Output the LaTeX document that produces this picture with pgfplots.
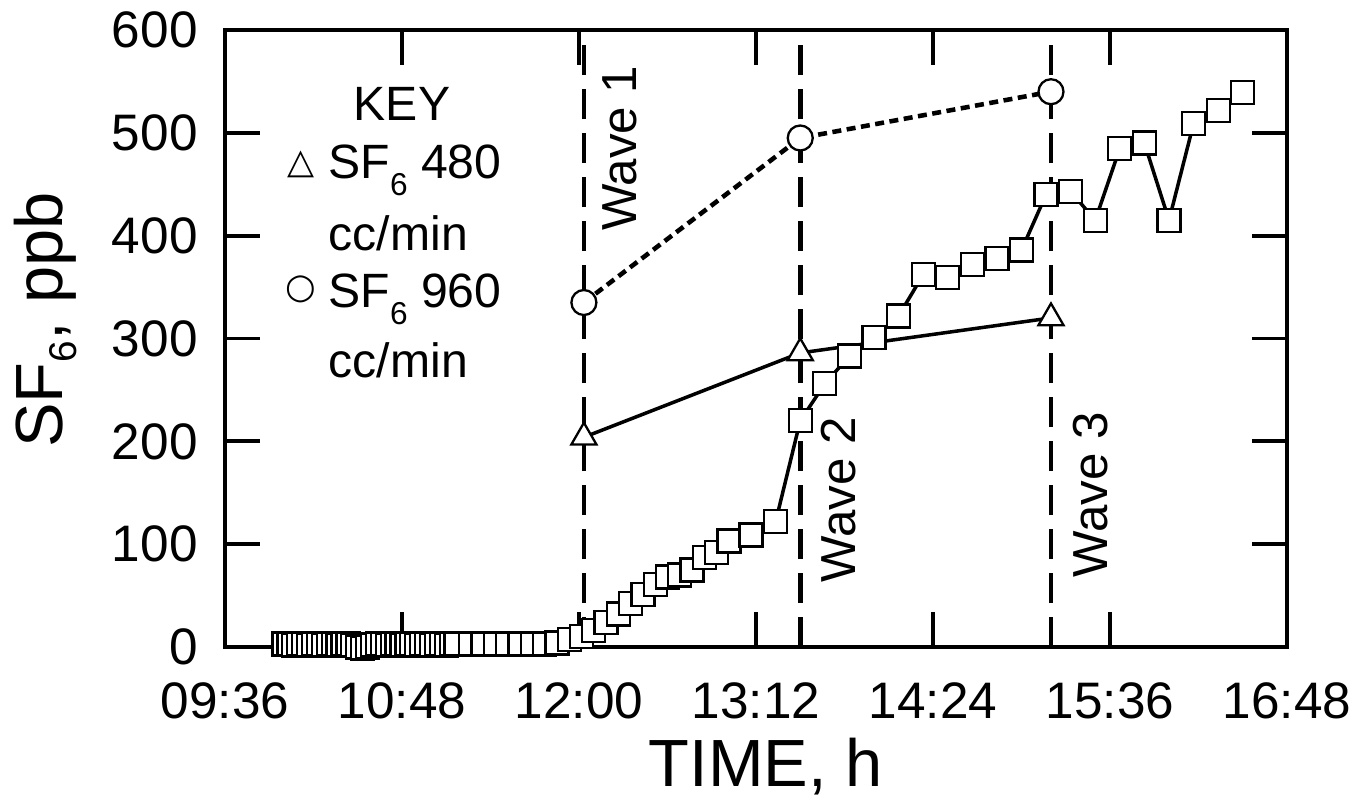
\documentclass[border=0pt]{standalone}
\usepackage{pgfplots}
\pgfplotsset{compat=1.18}
\usepackage{fontspec}
\setmainfont{Liberation Sans}
\newfontfamily\symfont{DejaVu Sans}
% lowered subscript: #1 size, #2 drop, #3 text
\newcommand\sub[3]{\raisebox{-#2}{\fontsize{#1}{#1}\selectfont #3}}

% time in minutes after midnight
\pgfplotstableread{
t    v
600  3
602  3
604  2
606  3
608  3
610  2
612  3
614  3
616  2
618  3
620  3
622  2
624  3
626  3
628  2
630  0
632  -1
634  0
636  2
638  3
640  3
642  2
644  3
646  3
648  2
650  3
652  3
654  2
656  3
658  3
660  2
662  3
664  3
666  2
668  3
670  3
676  3
681  3
686  3
691  3
696  3
701  3
706  3
711  4
716  7
721  10
726  16
731  24
736  32
741  42
746  51
751  61
756  68
761  70
766  75
771  87
776  92
781  103
790  109
800  122
810  220
820  256
830  283
840  301
850  322
860  362
870  359
880  372
890  378
900  386
910  440
920  443
930  415
940  485
950  490
960  415
970  509
980  522
990  539
}\squares

\begin{document}
\begin{tikzpicture}
\begin{axis}[
  name=ax, scale only axis,
  width=10.62cm, height=6.17cm,
  xmin=576, xmax=1008, ymin=0, ymax=600,
  xtick={576,648,720,792,864,936,1008},
  xticklabels={09:36,10:48,12:00,13:12,14:24,15:36,16:48},
  ytick={0,100,200,300,400,500,600},
  /pgf/number format/assume math mode=true,
  tick label style={font=\fontsize{14.6}{16}\selectfont},
  xticklabel style={yshift=-2.3mm},
  yticklabel style={xshift=-1.5mm},
  major tick length=3.5mm,
  tick style={line width=1.1pt, black},
  axis line style={line width=1.2pt},
  xlabel={TIME, h},
  ylabel={SF\sub{11pt}{1.4mm}{6}, ppb},
  label style={font=\fontsize{19}{22}\selectfont},
  xlabel style={at={(axis description cs:0.509,-0.1945)}, anchor=center},
  ylabel style={at={(axis description cs:-0.1686,0.53)}, anchor=center},
  clip=false,
]
% wave lines
\addplot[black, line width=1.3pt, dash pattern=on 3mm off 1.4mm] coordinates {(722,0) (722,600)};
\addplot[black, line width=1.3pt, dash pattern=on 3mm off 1.4mm] coordinates {(810,0) (810,600)};
\addplot[black, line width=1.3pt, dash pattern=on 3mm off 1.4mm] coordinates {(912,0) (912,600)};

% SF6 480 cc/min
\addplot[black, line width=1pt, mark=triangle*, mark size=1.45mm,
  mark options={fill=white, solid, line width=0.65pt}]
  coordinates {(722,204) (810,286) (912,320)};
% SF6 960 cc/min
\addplot[black, line width=1.3pt, dash pattern=on 0.9mm off 0.55mm, mark=*, mark size=1.25mm,
  mark options={fill=white, solid, line width=0.65pt}]
  coordinates {(722,335) (810,495) (912,540)};
% measured
\addplot[black, line width=1pt, mark=square*, mark size=1.15mm,
  mark options={fill=white, solid, line width=0.65pt}]
  table[x=t, y=v] {\squares};

\node[rotate=90, font=\fontsize{14}{16}\selectfont] at (axis cs:736.7,485) {Wave 1};
\node[rotate=90, font=\fontsize{14}{16}\selectfont] at (axis cs:825.4,143) {Wave 2};
\node[rotate=90, font=\fontsize{14}{16}\selectfont] at (axis cs:928,148) {Wave 3};

\begin{scope}[every node/.style={inner sep=0, font=\fontsize{13.7}{16}\selectfont}]
\node[anchor=base] at (axis description cs:0.1667,0.854) {KEY};
\node[anchor=base west] at (axis description cs:0.097,0.760) {SF\sub{9pt}{1.7mm}{6} 480};
\node[anchor=base west] at (axis description cs:0.097,0.643) {cc/min};
\node[anchor=base west] at (axis description cs:0.097,0.551) {SF\sub{9pt}{1.7mm}{6} 960};
\node[anchor=base west] at (axis description cs:0.097,0.4376) {cc/min};
\node at (axis description cs:0.0716,0.783) {\symfont\fontsize{10}{12}\selectfont △};
\node at (axis description cs:0.0716,0.580) {\symfont\fontsize{10}{12}\selectfont ○};
\end{scope}
\end{axis}
\pgfresetboundingbox
\path ([shift={(-2.25cm,-1.63cm)}]ax.south west) rectangle ([shift={(0.8cm,0.3cm)}]ax.north east);
\end{tikzpicture}
\end{document}
